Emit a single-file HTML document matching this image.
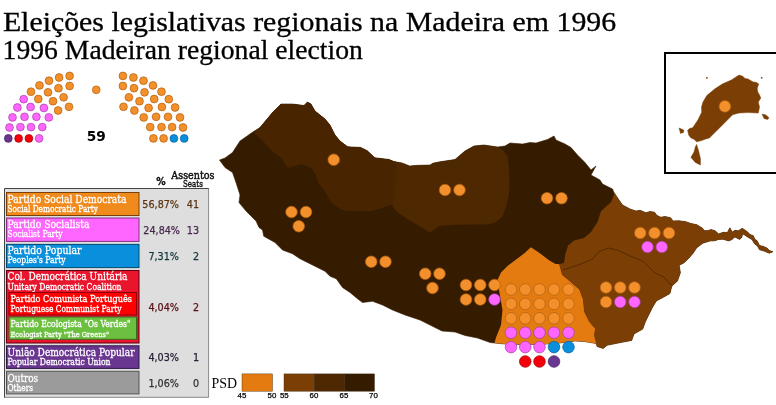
<!DOCTYPE html>
<html lang="pt"><head><meta charset="utf-8"><title>Eleições legislativas regionais na Madeira em 1996</title>
<style>html,body{margin:0;padding:0;background:#fff}svg{display:block}.t{font-family:"Liberation Serif",serif;fill:#000}.tt{stroke:#000;stroke-width:0.3}.ds{font-family:"DejaVu Serif","Liberation Serif",serif;fill:#fff;stroke:#fff;stroke-width:0.3}.sn{font-family:"DejaVu Sans","Liberation Sans",sans-serif}.sc{font-family:"DejaVu Sans Condensed","DejaVu Sans","Liberation Sans",sans-serif}</style></head><body>
<svg width="776" height="405" viewBox="0 0 776 405">
<rect width="776" height="405" fill="#fff"/>
<text class="t tt" x="2.9" y="30.8" font-size="26.5" textLength="613.3" lengthAdjust="spacingAndGlyphs">Eleições legislativas regionais na Madeira em 1996</text>
<text class="t tt" x="2.6" y="58.5" font-size="26.5" textLength="360.2" lengthAdjust="spacingAndGlyphs">1996 Madeiran regional election</text>
<defs><clipPath id="isl"><polygon points="219.5,160 225,158 232.5,152.5 240,141 250,134 260,127.5 272.5,112.5 281,104 292.5,104 304,105.5 307.5,102 311,104 315,111 325,119 330,125 335,135 340,141 347.7,146.8 360.6,147.4 367,150.6 374.8,157.7 389,159.4 394,161.6 401.9,162.9 409.6,166 416,165.4 430.2,165 432.8,163.2 440,161.8 455,159.5 465,151 474,146 484,145 497.5,147 505,146 510,143 522.5,144 530,142.5 536,143 547.5,139.5 554,136 556,140 565,144 571,147.5 577.5,155 585,162.5 591,170 596,166 591,175 600,180 602.5,184 612.5,189 614,192.5 619,200 622.5,205 630,209 636,211 640,210.3 645.9,212.7 650,211.5 654.5,212.2 657,215.5 660.7,217.2 665,216.5 670.6,217.7 673,220.9 679,220.8 685.4,221.6 691,223.6 696.5,224.6 702.7,228.3 704,230.5 707.6,230.7 711,229.6 715,230.7 718.7,234 723,232.3 727.4,232.5 729.8,227.8 732.3,232 735,230.3 738.5,230.7 742.2,228.3 747.1,231.5 750,234.5 753.3,235.7 755,239.5 757,240.6 759.5,245.6 763,246.2 766.9,248 769.5,250.6 773,251.7 769.3,253.2 764,251 759.5,249.8 757.5,246 754.5,243.8 752,239.6 748.3,237.4 742.7,233.7 741.8,237.5 739.7,239.4 734.8,236.9 732,239.6 728.6,240.9 723,239.2 718.7,239.4 714,240.9 710,240.9 702.7,243.3 696.5,248 693.3,253 689,257.9 684.1,262.8 679.2,265.3 680.4,272.7 677.5,280.9 671.8,286.3 670,293.5 663.8,297 656.4,300.9 652.7,307 649,314.4 645.3,321.9 642.8,329 634,334 631.7,340.4 619.4,342.8 607,345.3 603.3,348.5 597,346.5 596,343.5 584.8,341.6 575,341 560,343 540,344.5 520,344.5 505,344 494.5,343 490,342.5 477.5,338 465,335.5 455,332 442,331 432.5,326.25 420,320 405,315 392.5,310 382.5,305 372.5,301.25 362.5,302.5 357.5,298.75 350,292.5 342.5,287.5 336.25,278.75 330,276.25 325,271.25 312.5,265 300,258.75 292.5,253.75 282.5,250 275,242.5 263.75,236.25 262.5,230 259,227.5 256,221 246,211 239,202.5 240,195 236,182.5 232.5,172.5 225,167.5"/></clipPath></defs>
<polygon points="219.5,160 225,158 232.5,152.5 240,141 250,134 260,127.5 272.5,112.5 281,104 292.5,104 304,105.5 307.5,102 311,104 315,111 325,119 330,125 335,135 340,141 347.7,146.8 360.6,147.4 367,150.6 374.8,157.7 389,159.4 394,161.6 401.9,162.9 409.6,166 416,165.4 430.2,165 432.8,163.2 440,161.8 455,159.5 465,151 474,146 484,145 497.5,147 505,146 510,143 522.5,144 530,142.5 536,143 547.5,139.5 554,136 556,140 565,144 571,147.5 577.5,155 585,162.5 591,170 596,166 591,175 600,180 602.5,184 612.5,189 614,192.5 619,200 622.5,205 630,209 636,211 640,210.3 645.9,212.7 650,211.5 654.5,212.2 657,215.5 660.7,217.2 665,216.5 670.6,217.7 673,220.9 679,220.8 685.4,221.6 691,223.6 696.5,224.6 702.7,228.3 704,230.5 707.6,230.7 711,229.6 715,230.7 718.7,234 723,232.3 727.4,232.5 729.8,227.8 732.3,232 735,230.3 738.5,230.7 742.2,228.3 747.1,231.5 750,234.5 753.3,235.7 755,239.5 757,240.6 759.5,245.6 763,246.2 766.9,248 769.5,250.6 773,251.7 769.3,253.2 764,251 759.5,249.8 757.5,246 754.5,243.8 752,239.6 748.3,237.4 742.7,233.7 741.8,237.5 739.7,239.4 734.8,236.9 732,239.6 728.6,240.9 723,239.2 718.7,239.4 714,240.9 710,240.9 702.7,243.3 696.5,248 693.3,253 689,257.9 684.1,262.8 679.2,265.3 680.4,272.7 677.5,280.9 671.8,286.3 670,293.5 663.8,297 656.4,300.9 652.7,307 649,314.4 645.3,321.9 642.8,329 634,334 631.7,340.4 619.4,342.8 607,345.3 603.3,348.5 597,346.5 596,343.5 584.8,341.6 575,341 560,343 540,344.5 520,344.5 505,344 494.5,343 490,342.5 477.5,338 465,335.5 455,332 442,331 432.5,326.25 420,320 405,315 392.5,310 382.5,305 372.5,301.25 362.5,302.5 357.5,298.75 350,292.5 342.5,287.5 336.25,278.75 330,276.25 325,271.25 312.5,265 300,258.75 292.5,253.75 282.5,250 275,242.5 263.75,236.25 262.5,230 259,227.5 256,221 246,211 239,202.5 240,195 236,182.5 232.5,172.5 225,167.5" fill="#351b00" stroke="#351b00" stroke-width="0.6" stroke-linejoin="round"/>
<g clip-path="url(#isl)">
<polygon points="247,135 253.2,132 263,140.7 271.7,150.6 281.6,158 287.8,167.8 301.4,164.1 311.2,167.8 316.2,175.2 317,179 320,185 325,191 330,200 336,206 342.5,210 355,211 370,211 380,208.5 391,204.5 397,212 405,217.5 417.5,225 430,232.5 439.5,226 455,224.8 475,224.6 488.6,224.4 496,222 502.2,217 505.9,207.2 508.9,194.8 509.6,181.7 509,170 507.9,157 503,150 498,147 495,120 300,80 240,100" fill="#4e2800"/>
<clipPath id="nor"><polygon points="247,135 253.2,132 263,140.7 271.7,150.6 281.6,158 287.8,167.8 301.4,164.1 311.2,167.8 316.2,175.2 317,179 320,185 325,191 330,200 336,206 342.5,210 355,211 370,211 380,208.5 391,204.5 397,212 405,217.5 417.5,225 430,232.5 439.5,226 455,224.8 475,224.6 488.6,224.4 496,222 502.2,217 505.9,207.2 508.9,194.8 509.6,181.7 509,170 507.9,157 503,150 498,147 495,120 300,80 240,100"/></clipPath>
<g clip-path="url(#nor)"><polygon points="200,90 397,90 396.5,170 394.5,190 392,215 200,215" fill="#482500"/></g>
<polygon points="616,188 614.8,192.5 611,202.3 601,211 597.5,222 591,232 584,238 574,240.6 568,245.5 565.4,254 564,263 559,264 560,266 562.3,274.7 571,282.1 579.6,289.5 583.3,299.4 584.5,311.7 589.4,321.6 595.6,329 594.4,335.1 596.5,343.5 596,360 700,360 790,260 780,200 640,180" fill="#7b3f05"/>
<polygon points="530.9,247.3 539.5,253 549.4,260.4 555.5,264 559,264 560,266 562.3,274.7 571,282.1 579.6,289.5 583.3,299.4 584.5,311.7 589.4,321.6 595.6,329 594.4,335.1 596.5,343.5 598,360 490,360 494.5,343 496,337.5 501,325 502.5,310 499,290 497.5,280 501,272.5 507.5,266 514.8,260.4 524.7,253" fill="#e47b10"/>
<polyline points="563,270 574,266.5 584,262.8 592.6,259 598.8,251.7 608.6,248 618.5,250.5 628.4,255.4 640,260 644.5,262.5 654.5,272.5 664.5,277.5 669.5,283.75 672,285" fill="none" stroke="#4a2400" stroke-width="0.8"/>
<polyline points="559,264 560,266 562.3,274.7 571,282.1 579.6,289.5 583.3,299.4 584.5,311.7 589.4,321.6 595.6,329 594.4,335.1 596.5,343.5" fill="none" stroke="#6a3400" stroke-width="0.6"/>
</g>
<rect x="665" y="53" width="130" height="120" fill="#fff" stroke="#000" stroke-width="2"/>
<polygon points="739,75 742.8,76.3 745,78.5 748,78.9 753.1,81.9 756,82.3 758.8,84 757.2,88 757.7,91.7 759.5,95 760.8,98.1 758.3,102 759.5,107.1 758.3,113 748,112.6 739,113 732.6,114.8 727.4,120 721,126.4 714.6,132.8 709.4,138 705,139.2 701.7,140.6 696.6,141.8 694,139.3 691,138 688.9,135.4 687.6,130.3 690,128.3 692.7,127.7 697.9,120 701.7,112.3 701.5,107 703,102 706.8,95.6 714.6,89.1 722.3,84 731.3,80.1" fill="#7b3f05" stroke="#7b3f05" stroke-width="0.5"/>
<polygon points="696.6,144.4 698.6,150.8 700.4,158.5 700.4,165 695.3,162.4 690.9,157.3 694,152.1 695.3,147" fill="#7b3f05" stroke="#7b3f05" stroke-width="0.5"/>
<polygon points="679.1,128 683.7,130 683.5,132.5 680.5,133.4" fill="#7b3f05" stroke="#7b3f05" stroke-width="0.5"/>
<polygon points="762.1,114 766,115 769,117.8 767.5,119.5 764,118.5" fill="#7b3f05" stroke="#7b3f05" stroke-width="0.5"/>
<circle cx="706.9" cy="77.8" r="0.9" fill="#7b3f05"/><circle cx="761.7" cy="77.8" r="0.9" fill="#7b3f05"/>
<circle cx="333.75" cy="159.75" r="5.8" fill="#f4902c" stroke="#b0600e" stroke-width="0.7"/>
<circle cx="291.5" cy="212" r="5.8" fill="#f4902c" stroke="#b0600e" stroke-width="0.7"/>
<circle cx="306" cy="212" r="5.8" fill="#f4902c" stroke="#b0600e" stroke-width="0.7"/>
<circle cx="298.75" cy="226.25" r="5.8" fill="#f4902c" stroke="#b0600e" stroke-width="0.7"/>
<circle cx="445" cy="190" r="5.8" fill="#f4902c" stroke="#b0600e" stroke-width="0.7"/>
<circle cx="459.5" cy="190" r="5.8" fill="#f4902c" stroke="#b0600e" stroke-width="0.7"/>
<circle cx="547" cy="198.25" r="5.8" fill="#f4902c" stroke="#b0600e" stroke-width="0.7"/>
<circle cx="561.5" cy="198.25" r="5.8" fill="#f4902c" stroke="#b0600e" stroke-width="0.7"/>
<circle cx="371.25" cy="261.75" r="5.8" fill="#f4902c" stroke="#b0600e" stroke-width="0.7"/>
<circle cx="385.5" cy="261.75" r="5.8" fill="#f4902c" stroke="#b0600e" stroke-width="0.7"/>
<circle cx="425.25" cy="273.75" r="5.8" fill="#f4902c" stroke="#b0600e" stroke-width="0.7"/>
<circle cx="439.5" cy="273.75" r="5.8" fill="#f4902c" stroke="#b0600e" stroke-width="0.7"/>
<circle cx="432.5" cy="288" r="5.8" fill="#f4902c" stroke="#b0600e" stroke-width="0.7"/>
<circle cx="466" cy="285" r="5.8" fill="#f4902c" stroke="#b0600e" stroke-width="0.7"/>
<circle cx="480.25" cy="285" r="5.8" fill="#f4902c" stroke="#b0600e" stroke-width="0.7"/>
<circle cx="494.5" cy="285" r="5.8" fill="#f4902c" stroke="#b0600e" stroke-width="0.7"/>
<circle cx="466" cy="299.5" r="5.8" fill="#f4902c" stroke="#b0600e" stroke-width="0.7"/>
<circle cx="480.25" cy="299.5" r="5.8" fill="#f4902c" stroke="#b0600e" stroke-width="0.7"/>
<circle cx="494.5" cy="299.5" r="5.8" fill="#ff66ff" stroke="#a040a0" stroke-width="0.7"/>
<circle cx="640.25" cy="233" r="5.8" fill="#f4902c" stroke="#b0600e" stroke-width="0.7"/>
<circle cx="654.5" cy="233" r="5.8" fill="#f4902c" stroke="#b0600e" stroke-width="0.7"/>
<circle cx="669" cy="233" r="5.8" fill="#f4902c" stroke="#b0600e" stroke-width="0.7"/>
<circle cx="647.5" cy="247" r="5.8" fill="#ff66ff" stroke="#a040a0" stroke-width="0.7"/>
<circle cx="661.75" cy="247" r="5.8" fill="#ff66ff" stroke="#a040a0" stroke-width="0.7"/>
<circle cx="606" cy="287.5" r="5.8" fill="#f4902c" stroke="#b0600e" stroke-width="0.7"/>
<circle cx="620.25" cy="287.5" r="5.8" fill="#f4902c" stroke="#b0600e" stroke-width="0.7"/>
<circle cx="634.5" cy="287.5" r="5.8" fill="#f4902c" stroke="#b0600e" stroke-width="0.7"/>
<circle cx="606" cy="302" r="5.8" fill="#f4902c" stroke="#b0600e" stroke-width="0.7"/>
<circle cx="620.25" cy="302" r="5.8" fill="#ff66ff" stroke="#a040a0" stroke-width="0.7"/>
<circle cx="634.5" cy="302" r="5.8" fill="#ff66ff" stroke="#a040a0" stroke-width="0.7"/>
<circle cx="724.9" cy="106.4" r="5.8" fill="#f4902c" stroke="#b0600e" stroke-width="0.7"/>
<circle cx="511" cy="289.5" r="5.8" fill="#f4902c" stroke="#b0600e" stroke-width="0.7"/>
<circle cx="525.25" cy="289.5" r="5.8" fill="#f4902c" stroke="#b0600e" stroke-width="0.7"/>
<circle cx="539.5" cy="289.5" r="5.8" fill="#f4902c" stroke="#b0600e" stroke-width="0.7"/>
<circle cx="554" cy="289.5" r="5.8" fill="#f4902c" stroke="#b0600e" stroke-width="0.7"/>
<circle cx="568.5" cy="289.5" r="5.8" fill="#f4902c" stroke="#b0600e" stroke-width="0.7"/>
<circle cx="511" cy="303.9" r="5.8" fill="#f4902c" stroke="#b0600e" stroke-width="0.7"/>
<circle cx="525.25" cy="303.9" r="5.8" fill="#f4902c" stroke="#b0600e" stroke-width="0.7"/>
<circle cx="539.5" cy="303.9" r="5.8" fill="#f4902c" stroke="#b0600e" stroke-width="0.7"/>
<circle cx="554" cy="303.9" r="5.8" fill="#f4902c" stroke="#b0600e" stroke-width="0.7"/>
<circle cx="568.5" cy="303.9" r="5.8" fill="#f4902c" stroke="#b0600e" stroke-width="0.7"/>
<circle cx="511" cy="318.3" r="5.8" fill="#f4902c" stroke="#b0600e" stroke-width="0.7"/>
<circle cx="525.25" cy="318.3" r="5.8" fill="#f4902c" stroke="#b0600e" stroke-width="0.7"/>
<circle cx="539.5" cy="318.3" r="5.8" fill="#f4902c" stroke="#b0600e" stroke-width="0.7"/>
<circle cx="554" cy="318.3" r="5.8" fill="#f4902c" stroke="#b0600e" stroke-width="0.7"/>
<circle cx="568.5" cy="318.3" r="5.8" fill="#f4902c" stroke="#b0600e" stroke-width="0.7"/>
<circle cx="511" cy="332.7" r="5.8" fill="#ff66ff" stroke="#a040a0" stroke-width="0.7"/>
<circle cx="525.25" cy="332.7" r="5.8" fill="#ff66ff" stroke="#a040a0" stroke-width="0.7"/>
<circle cx="539.5" cy="332.7" r="5.8" fill="#ff66ff" stroke="#a040a0" stroke-width="0.7"/>
<circle cx="554" cy="332.7" r="5.8" fill="#ff66ff" stroke="#a040a0" stroke-width="0.7"/>
<circle cx="568.5" cy="332.7" r="5.8" fill="#ff66ff" stroke="#a040a0" stroke-width="0.7"/>
<circle cx="511" cy="347.1" r="5.8" fill="#ff66ff" stroke="#a040a0" stroke-width="0.7"/>
<circle cx="525.25" cy="347.1" r="5.8" fill="#ff66ff" stroke="#a040a0" stroke-width="0.7"/>
<circle cx="539.5" cy="347.1" r="5.8" fill="#ff66ff" stroke="#a040a0" stroke-width="0.7"/>
<circle cx="554" cy="347.1" r="5.8" fill="#0a8fdc" stroke="#06609a" stroke-width="0.7"/>
<circle cx="568.5" cy="347.1" r="5.8" fill="#0a8fdc" stroke="#06609a" stroke-width="0.7"/>
<circle cx="525.25" cy="361.5" r="5.8" fill="#f5000a" stroke="#a00008" stroke-width="0.7"/>
<circle cx="539.5" cy="361.5" r="5.8" fill="#f5000a" stroke="#a00008" stroke-width="0.7"/>
<circle cx="554" cy="361.5" r="5.8" fill="#6a3790" stroke="#3f2060" stroke-width="0.7"/>
<circle cx="8.3" cy="138.4" r="3.9" fill="#6a3790" stroke="#3f2060" stroke-width="0.7"/>
<circle cx="184.2" cy="138.4" r="3.9" fill="#0a8fdc" stroke="#06609a" stroke-width="0.7"/>
<circle cx="9.5" cy="127.5" r="3.9" fill="#ff66ff" stroke="#a040a0" stroke-width="0.7"/>
<circle cx="183" cy="127.5" r="3.9" fill="#f4902c" stroke="#b0600e" stroke-width="0.7"/>
<circle cx="12.5" cy="117.4" r="3.9" fill="#ff66ff" stroke="#a040a0" stroke-width="0.7"/>
<circle cx="180" cy="117.4" r="3.9" fill="#f4902c" stroke="#b0600e" stroke-width="0.7"/>
<circle cx="17.4" cy="107.5" r="3.9" fill="#ff66ff" stroke="#a040a0" stroke-width="0.7"/>
<circle cx="175.1" cy="107.5" r="3.9" fill="#f4902c" stroke="#b0600e" stroke-width="0.7"/>
<circle cx="23.7" cy="99.2" r="3.9" fill="#ff66ff" stroke="#a040a0" stroke-width="0.7"/>
<circle cx="168.8" cy="99.2" r="3.9" fill="#f4902c" stroke="#b0600e" stroke-width="0.7"/>
<circle cx="31" cy="91.7" r="3.9" fill="#f4902c" stroke="#b0600e" stroke-width="0.7"/>
<circle cx="161.5" cy="91.7" r="3.9" fill="#f4902c" stroke="#b0600e" stroke-width="0.7"/>
<circle cx="39.5" cy="85.4" r="3.9" fill="#f4902c" stroke="#b0600e" stroke-width="0.7"/>
<circle cx="153" cy="85.4" r="3.9" fill="#f4902c" stroke="#b0600e" stroke-width="0.7"/>
<circle cx="49" cy="80.7" r="3.9" fill="#f4902c" stroke="#b0600e" stroke-width="0.7"/>
<circle cx="143.5" cy="80.7" r="3.9" fill="#f4902c" stroke="#b0600e" stroke-width="0.7"/>
<circle cx="59.1" cy="77.5" r="3.9" fill="#f4902c" stroke="#b0600e" stroke-width="0.7"/>
<circle cx="133.4" cy="77.5" r="3.9" fill="#f4902c" stroke="#b0600e" stroke-width="0.7"/>
<circle cx="69.6" cy="75.9" r="3.9" fill="#f4902c" stroke="#b0600e" stroke-width="0.7"/>
<circle cx="122.9" cy="75.9" r="3.9" fill="#f4902c" stroke="#b0600e" stroke-width="0.7"/>
<circle cx="18.6" cy="138.4" r="3.9" fill="#f5000a" stroke="#a00008" stroke-width="0.7"/>
<circle cx="173.9" cy="138.4" r="3.9" fill="#0a8fdc" stroke="#06609a" stroke-width="0.7"/>
<circle cx="20.4" cy="127.1" r="3.9" fill="#ff66ff" stroke="#a040a0" stroke-width="0.7"/>
<circle cx="172.1" cy="127.1" r="3.9" fill="#f4902c" stroke="#b0600e" stroke-width="0.7"/>
<circle cx="24.5" cy="116.8" r="3.9" fill="#ff66ff" stroke="#a040a0" stroke-width="0.7"/>
<circle cx="168" cy="116.8" r="3.9" fill="#f4902c" stroke="#b0600e" stroke-width="0.7"/>
<circle cx="30.6" cy="107" r="3.9" fill="#ff66ff" stroke="#a040a0" stroke-width="0.7"/>
<circle cx="161.9" cy="107" r="3.9" fill="#f4902c" stroke="#b0600e" stroke-width="0.7"/>
<circle cx="38.3" cy="99" r="3.9" fill="#f4902c" stroke="#b0600e" stroke-width="0.7"/>
<circle cx="154.2" cy="99" r="3.9" fill="#f4902c" stroke="#b0600e" stroke-width="0.7"/>
<circle cx="48" cy="92.3" r="3.9" fill="#f4902c" stroke="#b0600e" stroke-width="0.7"/>
<circle cx="144.5" cy="92.3" r="3.9" fill="#f4902c" stroke="#b0600e" stroke-width="0.7"/>
<circle cx="58.5" cy="88.2" r="3.9" fill="#f4902c" stroke="#b0600e" stroke-width="0.7"/>
<circle cx="134" cy="88.2" r="3.9" fill="#f4902c" stroke="#b0600e" stroke-width="0.7"/>
<circle cx="69.6" cy="86" r="3.9" fill="#f4902c" stroke="#b0600e" stroke-width="0.7"/>
<circle cx="122.9" cy="86" r="3.9" fill="#f4902c" stroke="#b0600e" stroke-width="0.7"/>
<circle cx="28.9" cy="138.4" r="3.9" fill="#f5000a" stroke="#a00008" stroke-width="0.7"/>
<circle cx="163.6" cy="138.4" r="3.9" fill="#f4902c" stroke="#b0600e" stroke-width="0.7"/>
<circle cx="31" cy="127.1" r="3.9" fill="#ff66ff" stroke="#a040a0" stroke-width="0.7"/>
<circle cx="161.5" cy="127.1" r="3.9" fill="#f4902c" stroke="#b0600e" stroke-width="0.7"/>
<circle cx="36.4" cy="116.8" r="3.9" fill="#ff66ff" stroke="#a040a0" stroke-width="0.7"/>
<circle cx="156.1" cy="116.8" r="3.9" fill="#f4902c" stroke="#b0600e" stroke-width="0.7"/>
<circle cx="43.9" cy="107.9" r="3.9" fill="#ff66ff" stroke="#a040a0" stroke-width="0.7"/>
<circle cx="148.6" cy="107.9" r="3.9" fill="#f4902c" stroke="#b0600e" stroke-width="0.7"/>
<circle cx="53" cy="101.2" r="3.9" fill="#f4902c" stroke="#b0600e" stroke-width="0.7"/>
<circle cx="139.5" cy="101.2" r="3.9" fill="#f4902c" stroke="#b0600e" stroke-width="0.7"/>
<circle cx="63.6" cy="97.3" r="3.9" fill="#f4902c" stroke="#b0600e" stroke-width="0.7"/>
<circle cx="128.9" cy="97.3" r="3.9" fill="#f4902c" stroke="#b0600e" stroke-width="0.7"/>
<circle cx="39.1" cy="138.4" r="3.9" fill="#ff66ff" stroke="#a040a0" stroke-width="0.7"/>
<circle cx="153.4" cy="138.4" r="3.9" fill="#f4902c" stroke="#b0600e" stroke-width="0.7"/>
<circle cx="42.3" cy="127.1" r="3.9" fill="#ff66ff" stroke="#a040a0" stroke-width="0.7"/>
<circle cx="150.2" cy="127.1" r="3.9" fill="#f4902c" stroke="#b0600e" stroke-width="0.7"/>
<circle cx="48.8" cy="117.4" r="3.9" fill="#ff66ff" stroke="#a040a0" stroke-width="0.7"/>
<circle cx="143.7" cy="117.4" r="3.9" fill="#f4902c" stroke="#b0600e" stroke-width="0.7"/>
<circle cx="58.1" cy="110.5" r="3.9" fill="#f4902c" stroke="#b0600e" stroke-width="0.7"/>
<circle cx="134.4" cy="110.5" r="3.9" fill="#f4902c" stroke="#b0600e" stroke-width="0.7"/>
<circle cx="69" cy="106.8" r="3.9" fill="#f4902c" stroke="#b0600e" stroke-width="0.7"/>
<circle cx="123.5" cy="106.8" r="3.9" fill="#f4902c" stroke="#b0600e" stroke-width="0.7"/>
<circle cx="96.25" cy="89.8" r="3.9" fill="#f4902c" stroke="#b0600e" stroke-width="0.7"/>
<text class="sn" x="96.25" y="140.6" font-size="13.7" font-weight="bold" text-anchor="middle" fill="#000">59</text>
<rect x="4" y="188" width="205" height="209.8" fill="#dedede"/>
<path d="M4.5 397.8V188.5H209" fill="none" stroke="#444" stroke-width="1"/>
<path d="M4.5 397.3H208.6V188.5" fill="none" stroke="#8c8c8c" stroke-width="1"/>
<rect x="6.5" y="192.5" width="132.5" height="23" fill="#f08a1c" stroke="#7a4208" stroke-width="1"/>
<text class="ds" x="7.5" y="202.7" font-size="11" textLength="119" lengthAdjust="spacingAndGlyphs">Partido Social Democrata</text>
<text class="ds" x="7.5" y="211.8" font-size="8.7" textLength="90.5" lengthAdjust="spacingAndGlyphs">Social Democratic Party</text>
<text class="sc" x="179" y="208.4" font-size="10.7" text-anchor="end" fill="#5a3512" stroke="#5a3512" stroke-width="0.25">56,87%</text>
<text class="sc" x="199" y="208.4" font-size="10.7" text-anchor="end" fill="#5a3512" stroke="#5a3512" stroke-width="0.25">41</text>
<rect x="6.5" y="218" width="132.5" height="23.4" fill="#ff66ff" stroke="#803380" stroke-width="1"/>
<text class="ds" x="7.5" y="228.2" font-size="11" textLength="82" lengthAdjust="spacingAndGlyphs">Partido Socialista</text>
<text class="ds" x="7.5" y="237.3" font-size="8.7" textLength="55" lengthAdjust="spacingAndGlyphs">Socialist Party</text>
<text class="sc" x="180" y="233.9" font-size="10.7" text-anchor="end" fill="#4a2850" stroke="#4a2850" stroke-width="0.25">24,84%</text>
<text class="sc" x="199" y="233.9" font-size="10.7" text-anchor="end" fill="#4a2850" stroke="#4a2850" stroke-width="0.25">13</text>
<rect x="6.5" y="244.4" width="132.5" height="23.2" fill="#0a8fdc" stroke="#054a75" stroke-width="1"/>
<text class="ds" x="7.5" y="253.7" font-size="11" textLength="74" lengthAdjust="spacingAndGlyphs">Partido Popular</text>
<text class="ds" x="7.5" y="262.8" font-size="8.7" textLength="58" lengthAdjust="spacingAndGlyphs">Peoples's Party</text>
<text class="sc" x="179" y="260.4" font-size="10.7" text-anchor="end" fill="#10383c" stroke="#10383c" stroke-width="0.25">7,31%</text>
<text class="sc" x="199" y="260.4" font-size="10.7" text-anchor="end" fill="#10383c" stroke="#10383c" stroke-width="0.25">2</text>
<rect x="6.5" y="270.5" width="132.5" height="72.5" fill="#e8152d" stroke="#600010" stroke-width="1"/>
<text class="ds" x="7.5" y="280" font-size="11" textLength="120" lengthAdjust="spacingAndGlyphs">Col. Democrática Unitária</text>
<text class="ds" x="7.5" y="289.8" font-size="8.7" textLength="114" lengthAdjust="spacingAndGlyphs">Unitary Democratic Coalition</text>
<rect x="9" y="292.5" width="127.5" height="22.5" fill="#ff0000" stroke="#90000a" stroke-width="1"/>
<text class="ds" x="10.5" y="302" font-size="8.7" textLength="121.5" lengthAdjust="spacingAndGlyphs">Partido Comunista Português</text>
<text class="ds" x="10.5" y="311.8" font-size="8.7" textLength="111" lengthAdjust="spacingAndGlyphs">Portuguese Communist Party</text>
<rect x="9" y="317" width="127.5" height="22.3" fill="#6cc040" stroke="#3a6a20" stroke-width="1"/>
<text class="ds" x="10.5" y="327" font-size="9.3" textLength="120" lengthAdjust="spacingAndGlyphs">Partido Ecologista "Os Verdes"</text>
<text class="ds" x="10.5" y="336.8" font-size="8" textLength="98.5" lengthAdjust="spacingAndGlyphs">Ecologist Party "The Greens"</text>
<text class="sc" x="179" y="310.6" font-size="10.7" text-anchor="end" fill="#5a1018" stroke="#5a1018" stroke-width="0.25">4,04%</text>
<text class="sc" x="199" y="310.6" font-size="10.7" text-anchor="end" fill="#5a1018" stroke="#5a1018" stroke-width="0.25">2</text>
<rect x="6.5" y="345.8" width="132.5" height="22.6" fill="#6a3790" stroke="#301848" stroke-width="1"/>
<text class="ds" x="7.5" y="356" font-size="11" textLength="127" lengthAdjust="spacingAndGlyphs">União Democrática Popular</text>
<text class="ds" x="7.5" y="365.2" font-size="8.7" textLength="103" lengthAdjust="spacingAndGlyphs">Popular Democratic Union</text>
<text class="sc" x="179" y="361" font-size="10.7" text-anchor="end" fill="#2a2038" stroke="#2a2038" stroke-width="0.25">4,03%</text>
<text class="sc" x="199" y="361" font-size="10.7" text-anchor="end" fill="#2a2038" stroke="#2a2038" stroke-width="0.25">1</text>
<rect x="6.5" y="371.3" width="132.5" height="22.6" fill="#9b9b9b" stroke="#555" stroke-width="1"/>
<text class="ds" x="7.5" y="381.5" font-size="11" textLength="30.5" lengthAdjust="spacingAndGlyphs">Outros</text>
<text class="ds" x="7.5" y="390.7" font-size="8.7" textLength="25.5" lengthAdjust="spacingAndGlyphs">Others</text>
<text class="sc" x="179" y="387.2" font-size="10.7" text-anchor="end" fill="#333" stroke="#333" stroke-width="0.25">1,06%</text>
<text class="sc" x="199" y="387.2" font-size="10.7" text-anchor="end" fill="#333" stroke="#333" stroke-width="0.25">0</text>
<text class="sn" x="156.2" y="185" font-size="10.8" font-weight="bold" textLength="9.4" lengthAdjust="spacingAndGlyphs" fill="#111" stroke="#111" stroke-width="0.35">%</text>
<text x="171.3" y="178.7" font-size="11.4" stroke="#111" stroke-width="0.5" textLength="43.2" lengthAdjust="spacingAndGlyphs" style="font-family:'DejaVu Serif',serif;fill:#111">Assentos</text>
<text x="183" y="186.6" font-size="9.2" stroke="#111" stroke-width="0.4" textLength="19.8" lengthAdjust="spacingAndGlyphs" style="font-family:'DejaVu Serif',serif;fill:#111">Seats</text>
<text class="t" x="211.5" y="388" font-size="14.5" textLength="25.5" lengthAdjust="spacingAndGlyphs">PSD</text>
<rect x="242" y="373.9" width="30.5" height="17.3" fill="#e47b10" stroke="#3a2a10" stroke-width="0.4"/>
<rect x="284" y="373.9" width="30.3" height="17.3" fill="#7b3f05" stroke="#3a2a10" stroke-width="0.4"/>
<rect x="314.3" y="373.9" width="30" height="17.3" fill="#4e2800" stroke="#3a2a10" stroke-width="0.4"/>
<rect x="344.3" y="373.9" width="30.2" height="17.3" fill="#351b00" stroke="#3a2a10" stroke-width="0.4"/>
<text x="242" y="397.8" font-size="7.9" text-anchor="middle" fill="#000" stroke="#000" stroke-width="0.25" style="font-family:'Liberation Sans',sans-serif">45</text>
<text x="272" y="397.8" font-size="7.9" text-anchor="middle" fill="#000" stroke="#000" stroke-width="0.25" style="font-family:'Liberation Sans',sans-serif">50</text>
<text x="284.3" y="397.8" font-size="7.9" text-anchor="middle" fill="#000" stroke="#000" stroke-width="0.25" style="font-family:'Liberation Sans',sans-serif">55</text>
<text x="314" y="397.8" font-size="7.9" text-anchor="middle" fill="#000" stroke="#000" stroke-width="0.25" style="font-family:'Liberation Sans',sans-serif">60</text>
<text x="344" y="397.8" font-size="7.9" text-anchor="middle" fill="#000" stroke="#000" stroke-width="0.25" style="font-family:'Liberation Sans',sans-serif">65</text>
<text x="373.5" y="397.8" font-size="7.9" text-anchor="middle" fill="#000" stroke="#000" stroke-width="0.25" style="font-family:'Liberation Sans',sans-serif">70</text>
</svg></body></html>
